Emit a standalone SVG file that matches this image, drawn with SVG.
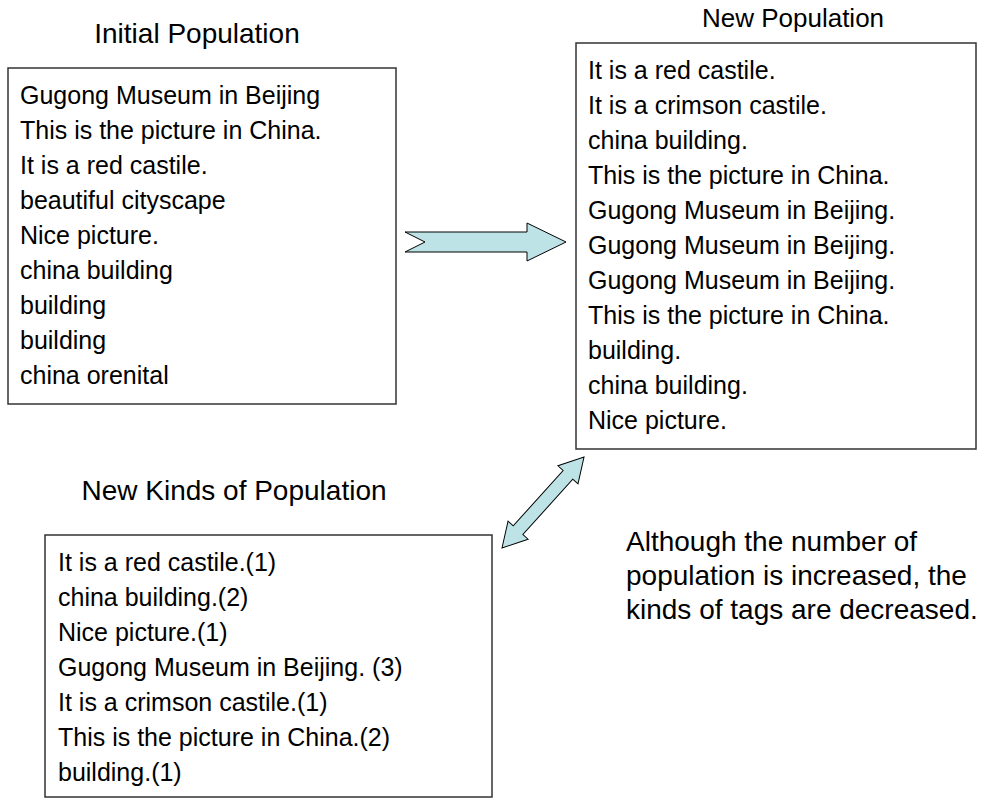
<svg xmlns="http://www.w3.org/2000/svg" width="984" height="800" viewBox="0 0 984 800">
<style>
.t{font-family:"Liberation Sans",Arial,sans-serif;font-size:25px;fill:#000}
.h{font-family:"Liberation Sans",Arial,sans-serif;font-size:27px;fill:#000;text-anchor:middle}
.n{font-family:"Liberation Sans",Arial,sans-serif;font-size:28px;fill:#000}
.box{fill:#fff;stroke:#333;stroke-width:1.5}
.arr{fill:#bde3e6;stroke:#000;stroke-width:1}
</style>
<rect width="984" height="800" fill="#fff"/>
<g id="initial">
<text class="h" x="197" y="43" style="font-size:28px">Initial Population</text>
<rect class="box" x="8" y="68" width="388" height="336"/>
<text class="t" x="20" y="104">Gugong Museum in Beijing</text>
<text class="t" x="20" y="139">This is the picture in China.</text>
<text class="t" x="20" y="174">It is a red castile.</text>
<text class="t" x="20" y="209">beautiful cityscape</text>
<text class="t" x="20" y="244">Nice picture.</text>
<text class="t" x="20" y="279">china building</text>
<text class="t" x="20" y="314">building</text>
<text class="t" x="20" y="349">building</text>
<text class="t" x="20" y="384">china orenital</text>
</g>
<g id="newpop">
<text class="h" x="793" y="27" style="font-size:26px">New Population</text>
<rect class="box" x="576" y="43" width="400" height="406"/>
<text class="t" x="588" y="79">It is a red castile.</text>
<text class="t" x="588" y="114">It is a crimson castile.</text>
<text class="t" x="588" y="149">china building.</text>
<text class="t" x="588" y="184">This is the picture in China.</text>
<text class="t" x="588" y="219">Gugong Museum in Beijing.</text>
<text class="t" x="588" y="254">Gugong Museum in Beijing.</text>
<text class="t" x="588" y="289">Gugong Museum in Beijing.</text>
<text class="t" x="588" y="324">This is the picture in China.</text>
<text class="t" x="588" y="359">building.</text>
<text class="t" x="588" y="394">china building.</text>
<text class="t" x="588" y="429">Nice picture.</text>
</g>
<g id="kinds">
<text class="h" x="234" y="500" style="font-size:28px">New Kinds of Population</text>
<rect class="box" x="45" y="535" width="447" height="262"/>
<text class="t" x="58" y="571">It is a red castile.(1)</text>
<text class="t" x="58" y="606">china building.(2)</text>
<text class="t" x="58" y="641">Nice picture.(1)</text>
<text class="t" x="58" y="676">Gugong Museum in Beijing. (3)</text>
<text class="t" x="58" y="711">It is a crimson castile.(1)</text>
<text class="t" x="58" y="746">This is the picture in China.(2)</text>
<text class="t" x="58" y="781">building.(1)</text>
</g>
<g id="note">
<text class="n" x="626" y="551">Although the number of</text>
<text class="n" x="626" y="585">population is increased, the</text>
<text class="n" x="626" y="619">kinds of tags are decreased.</text>
</g>
<g id="connectors">
<polygon class="arr" points="405,232 527,232 527,223 566,242 527,261 527,252 405,252 425,242"/>
<polygon class="arr" transform="translate(502,548) rotate(-47.97)" points="0,0 24,-13.5 24,-6.5 98.5,-6.5 98.5,-13.5 122.5,0 98.5,13.5 98.5,6.5 24,6.5 24,13.5"/>
</g>
</svg>
